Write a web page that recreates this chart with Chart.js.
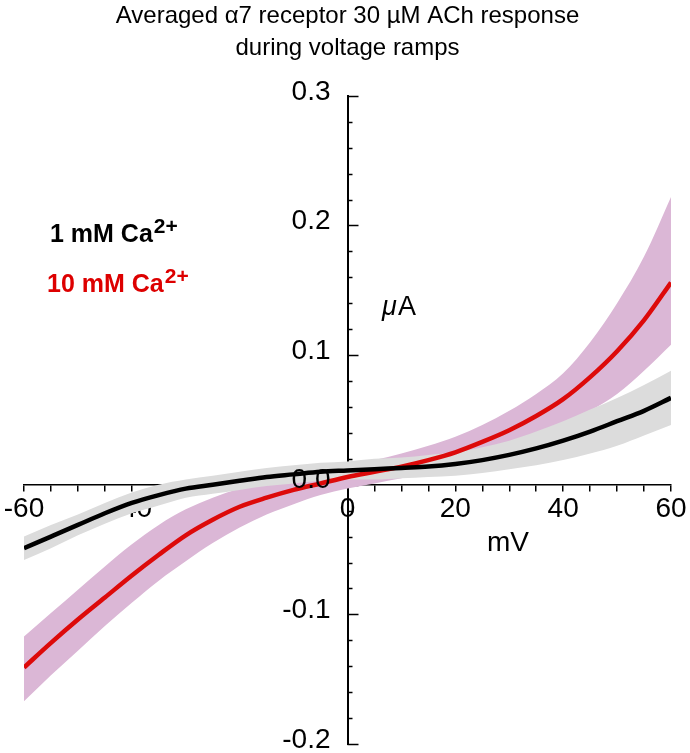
<!DOCTYPE html>
<html>
<head>
    <title>Averaged α7 receptor 30 µM ACh response during voltage ramps</title>
    <script src="https://cdn.jsdelivr.net/npm/chart.js"></script>
    <style>
        body { margin: 0; background: #fff; }
        #ramp-chart { display: block; }
    </style>
</head>
<body>
    <canvas id="ramp-chart" width="690" height="753"></canvas>

    <script>
        // membrane potential (mV) along the ramp
        const voltages = [-60, -55, -50, -45, -40, -35, -30, -25, -20, -15, -10, -5, 0,
                          5, 10, 15, 20, 25, 30, 35, 40, 45, 50, 55, 60];

        // 1 mM Ca2+ : mean current and SEM envelope (µA)
        const ca1Mean  = [-0.049, -0.040, -0.031, -0.022, -0.014, -0.008, -0.003, 0.000, 0.003, 0.006, 0.008, 0.010, 0.011,
                          0.012, 0.013, 0.014, 0.016, 0.019, 0.023, 0.028, 0.034, 0.041, 0.049, 0.057, 0.067];
        const ca1Upper = [-0.040, -0.031, -0.023, -0.014, -0.006, 0.000, 0.004, 0.007, 0.010, 0.013, 0.015, 0.017, 0.018,
                          0.020, 0.021, 0.023, 0.025, 0.029, 0.034, 0.041, 0.049, 0.058, 0.067, 0.077, 0.088];
        const ca1Lower = [-0.058, -0.049, -0.039, -0.030, -0.022, -0.016, -0.010, -0.007, -0.004, -0.001, 0.001, 0.003, 0.004,
                          0.004, 0.005, 0.006, 0.007, 0.009, 0.012, 0.015, 0.019, 0.024, 0.030, 0.038, 0.046];

        // 10 mM Ca2+ : mean current and SEM envelope (µA)
        const ca10Mean  = [-0.141, -0.122, -0.104, -0.087, -0.070, -0.054, -0.039, -0.027, -0.017, -0.010, -0.004, 0.001, 0.006,
                           0.010, 0.014, 0.019, 0.025, 0.033, 0.042, 0.053, 0.066, 0.083, 0.103, 0.127, 0.156];
        const ca10Upper = [-0.117, -0.099, -0.081, -0.063, -0.046, -0.031, -0.019, -0.010, -0.003, 0.002, 0.006, 0.010, 0.015,
                           0.019, 0.024, 0.030, 0.037, 0.046, 0.057, 0.070, 0.086, 0.110, 0.140, 0.176, 0.222];
        const ca10Lower = [-0.167, -0.147, -0.128, -0.109, -0.091, -0.074, -0.059, -0.045, -0.033, -0.023, -0.015, -0.008, -0.003,
                           0.001, 0.005, 0.009, 0.014, 0.020, 0.027, 0.036, 0.046, 0.057, 0.070, 0.088, 0.108];

        const xLabelValues = [-60, -40, -20, 0, 20, 40, 60];
        const yLabelValues = [-0.2, -0.1, 0.0, 0.1, 0.2, 0.3];

        const FONT = '"Liberation Sans", Arial, Helvetica, sans-serif';

        function toPoints(arr) {
            return voltages.map((v, i) => ({ x: v, y: arr[i] }));
        }

        function isMajorY(v) {
            return yLabelValues.some(m => Math.abs(m - v) < 1e-6);
        }

        // y ticks point right of the axis, labels sit left; legend and unit labels
        const annotations = {
            id: 'annotations',
            beforeDatasetsDraw(chart) {
                const { ctx, scales: { x, y } } = chart;
                const x0 = x.getPixelForValue(0);
                ctx.save();
                ctx.strokeStyle = '#000';
                ctx.lineWidth = 1.5;
                y.ticks.forEach(t => {
                    const py = Math.round(y.getPixelForValue(t.value)) + 0.5;
                    const len = isMajorY(t.value) ? 11 : 5;
                    ctx.beginPath();
                    ctx.moveTo(x0, py);
                    ctx.lineTo(x0 + len, py);
                    ctx.stroke();
                });
                ctx.restore();
            },
            afterDatasetsDraw(chart) {
                const { ctx, scales: { x, y } } = chart;
                const x0 = x.getPixelForValue(0);
                ctx.save();
                ctx.fillStyle = '#000';
                ctx.font = '28px ' + FONT;
                ctx.textAlign = 'right';
                ctx.textBaseline = 'middle';
                yLabelValues.forEach(v => {
                    ctx.fillText(v.toFixed(1), x0 - 17, y.getPixelForValue(v) - 4);
                });

                ctx.textAlign = 'left';
                ctx.textBaseline = 'alphabetic';

                // unit labels
                ctx.font = 'italic 27px ' + FONT;
                ctx.fillText('\u03bc', 382, 315);
                ctx.font = '27px ' + FONT;
                ctx.fillText('A', 398, 315);
                ctx.font = '28px ' + FONT;
                ctx.fillText('mV', 487, 551);

                // legend
                drawCa(ctx, '1 mM Ca', '#000', 50, 242);
                drawCa(ctx, '10 mM Ca', '#dd0000', 47, 292);
                ctx.restore();
            }
        };

        function drawCa(ctx, text, color, left, base) {
            ctx.fillStyle = color;
            ctx.font = 'bold 25px ' + FONT;
            ctx.fillText(text, left, base);
            const w = ctx.measureText(text).width;
            ctx.font = 'bold 21px ' + FONT;
            ctx.fillText('2+', left + w + 1, base - 9);
        }

        const ramp = new Chart(document.getElementById('ramp-chart'), {
            type: 'line',
            data: {
                datasets: [
                    {
                        label: '1 mM Ca2+',
                        data: toPoints(ca1Mean),
                        borderColor: '#000',
                        borderWidth: 4.5,
                        pointRadius: 0,
                        cubicInterpolationMode: 'monotone',
                        order: 0
                    },
                    {
                        label: '10 mM Ca2+',
                        data: toPoints(ca10Mean),
                        borderColor: '#dd0a0a',
                        borderWidth: 4.5,
                        pointRadius: 0,
                        cubicInterpolationMode: 'monotone',
                        order: 1
                    },
                    {
                        label: '1 mM upper',
                        data: toPoints(ca1Upper),
                        borderWidth: 0,
                        pointRadius: 0,
                        backgroundColor: '#dcdcdc',
                        fill: '+1',
                        cubicInterpolationMode: 'monotone',
                        order: 2
                    },
                    {
                        label: '1 mM lower',
                        data: toPoints(ca1Lower),
                        borderWidth: 0,
                        pointRadius: 0,
                        cubicInterpolationMode: 'monotone',
                        order: 2
                    },
                    {
                        label: '10 mM upper',
                        data: toPoints(ca10Upper),
                        borderWidth: 0,
                        pointRadius: 0,
                        backgroundColor: '#dbb7d6',
                        fill: '+1',
                        cubicInterpolationMode: 'monotone',
                        order: 3
                    },
                    {
                        label: '10 mM lower',
                        data: toPoints(ca10Lower),
                        borderWidth: 0,
                        pointRadius: 0,
                        cubicInterpolationMode: 'monotone',
                        order: 3
                    }
                ]
            },
            options: {
                responsive: false,
                animation: false,
                devicePixelRatio: 1,
                layout: { padding: { left: 24, right: 19, top: 0, bottom: 9 } },
                plugins: {
                    legend: { display: false },
                    tooltip: { enabled: false },
                    title: {
                        display: true,
                        text: ['Averaged \u03b17 receptor 30 \u00b5M ACh response', 'during voltage ramps'],
                        color: '#000',
                        font: { family: FONT, size: 24, weight: 'normal', lineHeight: 1.33 },
                        padding: { top: 0, bottom: 32 }
                    }
                },
                scales: {
                    x: {
                        type: 'linear',
                        min: -60,
                        max: 60,
                        position: { y: 0 },
                        border: { display: true, color: '#000', width: 1.5 },
                        grid: { drawOnChartArea: false, drawTicks: true, tickLength: 6, color: '#000', lineWidth: 1.5 },
                        ticks: {
                            stepSize: 5,
                            autoSkip: false,
                            maxRotation: 0,
                            padding: 2,
                            color: '#000',
                            font: { family: FONT, size: 28 },
                            callback: v => xLabelValues.includes(v) ? String(v) : ''
                        }
                    },
                    y: {
                        type: 'linear',
                        min: -0.2,
                        max: 0.3,
                        position: { x: 0 },
                        border: { display: true, color: '#000', width: 2 },
                        grid: { display: false },
                        ticks: { display: false, stepSize: 0.02, autoSkip: false, maxTicksLimit: 100 }
                    }
                }
            },
            plugins: [annotations]
        });
    </script>
</body>
</html>
